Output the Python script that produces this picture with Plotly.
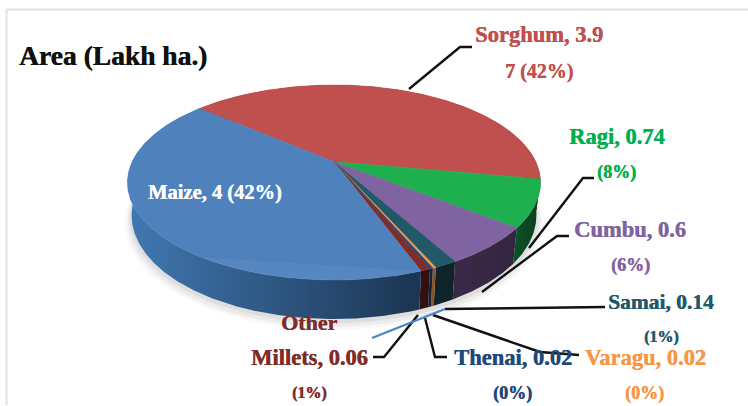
import numpy as np
import plotly.graph_objects as go

# Data, clockwise from the Sorghum slice
categories = ["Sorghum", "Ragi", "Cumbu", "Samai", "Varagu", "Thenai", "Other Millets", "Maize"]
values = [3.97, 0.74, 0.6, 0.14, 0.02, 0.02, 0.06, 4.0]
title_text = "Area (Lakh ha.)"
label_texts = ["Sorghum, 3.9", "7 (42%)", "Ragi, 0.74", "(8%)", "Cumbu, 0.6", "(6%)",
               "Samai, 0.14", "(1%)", "Varagu, 0.02", "(0%)", "Thenai, 0.02", "(0%)",
               "Other", "Millets, 0.06", "(1%)", "Maize, 4 (42%)"]

# Styling and layout (pixels of the page)
first_angle = 310.6
top_colors = ["#C0504D", "#1EAF4E", "#8064A2", "#215968", "#F79646", "#1F497D", "#7F2C2A", "#4F81BD"]
wall_left = ["#7A2A28", "#0B5227", "#3A2A48", "#0E2429", "#8A5424", "#14263C", "#33100F", "#4178B2"]
wall_right = ["#7A2A28", "#083F1E", "#33253F", "#0E2429", "#8A5424", "#14263C", "#33100F", "#1B3552"]
label_layout = [
    (539, 34, 22.5, "#C0504D"), (539, 71, 20, "#C0504D"),
    (617, 136, 22.5, "#00B050"), (616, 172, 18, "#00B050"),
    (630, 229, 22.5, "#8064A2"), (630, 265, 18, "#8064A2"),
    (661, 302, 21.5, "#215968"), (661, 337, 16, "#215968"),
    (645, 357, 22.5, "#F79646"), (644, 393, 18, "#F79646"),
    (513, 357, 22.5, "#1F497D"), (512, 393, 18, "#1F497D"),
    (309, 322, 22, "#7F2C2A"), (309, 357, 22.5, "#7F2C2A"),
    (309, 393, 16, "#7F2C2A"), (215, 192, 20.5, "#FFFFFF"),
]
leaders = [
    [(409, 89), (460, 47), (472, 47)],
    [(529, 248), (583, 178), (594, 178)],
    [(482, 292), (557, 236), (569, 236)],
    [(445, 309), (605, 307)],
    [(433, 315), (540, 352), (579, 355)],
    [(425, 318), (435, 357), (447, 357)],
    [(418, 315), (384, 357), (373, 357)],
]

# Perspective projection of the pie disc
CX, CY, A, B, K = 334.0, 161.7, 201.8, 93.1, 0.2133
GLARE_Y = 257


def project(theta_deg, drop=0.0, r=1.0):
    th = np.radians(theta_deg)
    u, v = r * np.sin(th), r * np.cos(th)
    w = 1 + K * v
    shrink = 1 - 0.02 * drop / 39.0
    x = CX + shrink * A * u / w
    t = drop * (31 - 8 * np.cos(th)) / 39.0
    y = CY - B * v / w + t
    return x, y


fig = go.Figure()

# Soft shadow under the pie
full = np.linspace(0, 360, 241)
for grow, extra, alpha in [(1.03, 6, 0.04), (1.018, 5, 0.06), (1.008, 3, 0.08)]:
    sx, sy = project(full, 39, grow)
    fig.add_trace(go.Scatter(x=sx, y=sy + extra, mode="lines", fill="toself",
                             line=dict(width=0), fillcolor=f"rgba(60,60,60,{alpha})", hoverinfo="skip"))

sweeps = np.array(values) / sum(values) * 360
starts = first_angle + np.concatenate([[0], np.cumsum(sweeps)[:-1]])
arcs = [np.linspace(s, s + d, max(4, int(d * 2))) for s, d in zip(starts, sweeps)]

# Side walls
for arc, c1, c2 in zip(arcs, wall_left, wall_right):
    x0, y0 = project(arc, 0)
    x1, y1 = project(arc[::-1], 39)
    fig.add_trace(go.Scatter(
        x=np.r_[x0, x1, x0[0]], y=np.r_[y0, y1, y0[0]], mode="lines", fill="toself",
        line=dict(width=0, color=c2), hoverinfo="skip",
        fillgradient=dict(type="horizontal", colorscale=[[0, c1], [1, c2]]),
    ))

# Top surface wedges
for arc, col in zip(arcs, top_colors):
    tx, ty = project(arc, 0)
    fig.add_trace(go.Scatter(
        x=np.r_[CX, tx, CX], y=np.r_[CY, ty, CY], mode="lines", fill="toself",
        line=dict(width=0.5, color=col), fillcolor=col, hoverinfo="skip",
    ))

maize_arc = arcs[categories.index("Maize")]

# Faint glare across the front of the Maize slice
gx, gy = project(maize_arc, 0)
keep = gy > GLARE_Y
fig.add_trace(go.Scatter(x=gx[keep], y=gy[keep], mode="lines", fill="toself",
                         line=dict(width=0), fillcolor="rgba(255,255,255,0.05)", hoverinfo="skip"))

# Bevel highlight along the front of the Maize slice
hx, hy = project(maize_arc[maize_arc < 282], 1.5, 0.995)
fig.add_trace(go.Scatter(x=hx, y=hy, mode="lines", line=dict(width=2.2, color="#6E9BD2"), hoverinfo="skip"))

shapes = []
for path in leaders:
    d = "M " + " L ".join(f"{px},{py}" for px, py in path)
    shapes.append(dict(type="path", path=d, xref="x", yref="y", line=dict(color="#111111", width=2.4)))
shapes.append(dict(type="line", x0=372, y0=338, x1=445, y1=309, xref="x", yref="y",
                   line=dict(color="#4A86C8", width=2.4)))
# Chart frame: only the top and left edges show in the picture
shapes.append(dict(type="line", x0=6.5, y0=9.5, x1=748, y1=9.5, xref="x", yref="y",
                   line=dict(color="#E2E2E2", width=2), layer="below"))
shapes.append(dict(type="line", x0=6.5, y0=9.5, x1=6.5, y1=405, xref="x", yref="y",
                   line=dict(color="#E2E2E2", width=2), layer="below"))

annotations = [dict(x=17, y=55, text=f"<b>{title_text}</b>", xref="x", yref="y", xanchor="left",
                    yanchor="middle", showarrow=False,
                    font=dict(family="Liberation Serif", size=27.5, color="#111111",
                              shadow="0.5px 0 0 #111111"))]
for text, (lx, ly, fs, col) in zip(label_texts, label_layout):
    annotations.append(dict(x=lx, y=ly, text=f"<b>{text}</b>", xref="x", yref="y", showarrow=False,
                            xanchor="center", yanchor="middle",
                            font=dict(family="Liberation Serif", size=fs, color=col,
                                      shadow=f"0.4px 0 0 {col}")))

fig.update_layout(
    width=748, height=406, margin=dict(l=0, r=0, t=0, b=0),
    paper_bgcolor="rgba(0,0,0,0)", plot_bgcolor="rgba(0,0,0,0)", showlegend=False,
    xaxis=dict(range=[0, 748], visible=False, fixedrange=True),
    yaxis=dict(range=[406, 0], visible=False, fixedrange=True),
    shapes=shapes, annotations=annotations,
)
fig.write_html("out.html", config=dict(displayModeBar=False),
               post_script="document.body.style.margin='0';document.body.style.overflow='hidden';")
